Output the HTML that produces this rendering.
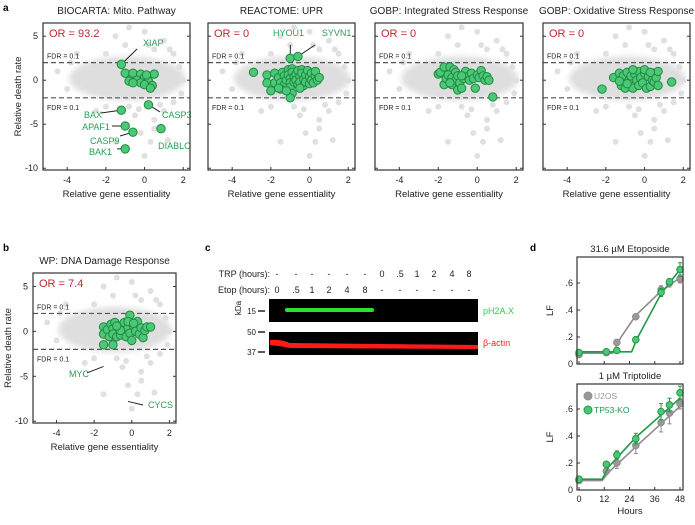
<!DOCTYPE html>
<html><head><meta charset="utf-8"><style>
body{margin:0;background:#fff;width:695px;height:520px;overflow:hidden;font-family:"Liberation Sans",sans-serif}
svg text{font-family:"Liberation Sans",sans-serif}
</style></head><body>
<svg id="fig" width="695" height="520" viewBox="0 0 695 520" xmlns="http://www.w3.org/2000/svg">
<defs><filter id="blur" x="-20%" y="-20%" width="140%" height="140%"><feGaussianBlur stdDeviation="3"/></filter></defs>
<text x="3" y="11" font-size="10" font-weight="bold">a</text>
<text x="3" y="251" font-size="10" font-weight="bold">b</text>
<text x="205" y="251" font-size="10" font-weight="bold">c</text>
<text x="530" y="251" font-size="10" font-weight="bold">d</text>
<g id="scatters"></g>
<g id="blot"></g>
<g id="lf"></g>
</svg>
<script>
// ---------- scatter data ----------
const bgPoints = [[-1.5,5],[0,5.5],[1.5,3],[-3.5,3],[-4.5,1],[2,0],[-0.5,-4],[0.5,-4.5],[1,-3.5],[-0.2,-6],[0.3,-7],[0,-8.6],[-1.5,-7],[1.2,-6.8],[-0.8,-3],[0.5,-5.5],[-2.5,-3.5],[1.5,-2.5],[-1,4],[0.5,3.5],[-2,3],[1,4.5],[-4,-1],[-3.8,2],[1.8,1.5],[1.9,-1.5],[-2,-3],[0.8,-2.8],[-0.3,-3.3],[1.3,3.5],[-0.8,6],[0.2,4]];
const greenBio = [[-1.2,1.8],[-1,0.8],[-0.6,0.8],[-0.2,0.7],[0,0.3],[0.5,0.7],[-0.8,-0.1],[-0.4,0],[-0.2,-0.3],[0.2,-0.1],[-0.6,-0.3],[0,-0.5],[0.4,-0.6],[0.3,-0.9],[0.1,0.6],[-1.2,-3.4],[0.2,-2.8],[-1,-5.2],[-0.6,-5.9],[0.85,-5.5],[-1,-7.8]];
// [label, pointX, pointY, textX, textY, leaderEndX, leaderEndY]
const labelsBio = [["XIAP",-1.2,1.8,-0.08,3.9,-0.39,3.55],["BAX",-1.2,-3.4,-3.13,-4.29,-2.25,-3.72],["CASP3",0.2,-2.8,0.9,-4.29,0.8,-3.6],["APAF1",-1,-5.2,-3.23,-5.66,-1.68,-5.2],["CASP9",-0.6,-5.9,-2.82,-7.25,-1.27,-6.34],["DIABLO",0.85,-5.5,0.7,-7.8,null,null],["BAK1",-1,-7.8,-2.87,-8.5,-1.42,-7.8]];
const labelsUpr = [["HYOU1",-1,2.5,-1.89,5.0,-0.99,4.0],["SYVN1",-0.6,2.7,0.64,5.0,0.28,4.0]];
const greenUpr = [[-1,2.5],[-0.6,2.7],[-2.9,0.9],[-2.2,0.6],[-2.2,-0.3],[-1.8,0.8],[-1.8,-0.3],[-1.6,0.3],[-1.5,-0.3],[-1.4,0.9],[-1.3,0.5],[-1.3,-0.5],[-1.2,0],[-1.1,1.2],[-1.1,0.6],[-1,0.2],[-1,-0.3],[-1,-0.8],[-0.9,1.3],[-0.9,0.9],[-0.8,0.4],[-0.8,-0.2],[-0.7,0.7],[-0.7,0],[-0.6,1.1],[-0.6,-0.5],[-0.5,0.4],[-0.5,-0.2],[-0.4,1.2],[-0.4,0.8],[-0.3,0.1],[-0.3,-0.6],[-0.2,0.6],[-0.2,-0.2],[-0.1,1.1],[0,0.4],[0,-0.4],[0.1,0.8],[0.1,0],[0.2,-0.3],[0.3,0.5],[0.3,1],[0.4,0],[0.5,0.3],[-1.5,-1],[-0.9,-1.5],[-1,-2],[-1.2,-1.2],[-2,-1.2],[-0.5,-0.9],[-1.6,-0.9]];
const greenIsr = [[-2,0.7],[-1.9,0.9],[-1.7,1.5],[-1.4,1.5],[-1.2,1.2],[-1.7,-0.5],[-1.6,0.2],[-1.5,0.6],[-1.3,0.3],[-1.3,-0.5],[-1.1,0.9],[-1.1,0],[-1,0.5],[-1,-1.1],[-0.9,-0.3],[-0.8,-0.9],[-0.7,0.2],[-0.6,1],[-0.5,0.4],[-0.4,0],[-0.3,0.8],[-0.2,0.2],[-0.1,-0.9],[0,0.6],[0.1,0.3],[0.2,1.1],[0.3,0.5],[0.4,0],[0.5,0.4],[0.6,0],[-1.4,-0.3],[0.8,-1.9],[-0.8,0.5]];
const greenOx = [[-2.2,-1],[-1.6,0.3],[-1.3,0.8],[-1.2,-0.6],[-1.1,0.5],[-1,-0.9],[-0.9,0.9],[-0.8,0],[-0.7,0.5],[-0.6,-0.9],[-0.5,0.7],[-0.4,0],[-0.3,1],[-0.3,-0.6],[-0.2,0.3],[-0.1,-0.3],[0,0.8],[0,1.2],[0.1,-0.9],[0.2,0.4],[0.3,-0.7],[0.4,0],[0.5,0.8],[0.5,-0.2],[0.6,0.3],[0.7,1],[0.7,-0.6],[1.4,-0.2],[-1.3,-0.1],[-0.6,1.2],[-0.9,-0.4],[0.3,0.9]];
const greenDna = [[-0.1,1.8],[-1.5,0.5],[-1.5,-0.3],[-1.3,0.2],[-1.2,-0.6],[-1.1,0.8],[-1,0.3],[-1,-0.3],[-0.9,1],[-0.8,-0.6],[-0.7,0.4],[-0.6,-0.4],[-0.5,0.7],[-0.4,0],[-0.4,1],[-0.3,-0.6],[-0.2,0.4],[-0.2,1.1],[-0.1,-0.2],[0,-1],[0.1,0.6],[0.2,0],[0.3,1.1],[0.4,-0.3],[0.5,0.4],[0.6,-0.7],[0.7,0.1],[0.8,0.5],[1,0.5],[-1.5,-1.5],[-1,-1.5],[-0.6,0.1],[0.1,0.9],[-0.8,0.6]];
const labelsDna = [["MYC",-1.5,-3.9,-3.34,-5.08,-2.38,-4.63],["CYCS",-0.2,-7.8,0.86,-8.53,0.6,-8.2]];
const xTicks = [-4,-2,0,2];
const yTicks = [5,0,-5,-10];

const panels = [
 {name:"biocarta-mito",title:"BIOCARTA: Mito. Pathway",or:"OR = 93.2",x:43,y:23,w:147,h:147,g:greenBio,lab:labelsBio,ylab:true},
 {name:"reactome-upr",title:"REACTOME: UPR",or:"OR = 0",x:208,y:23,w:147,h:147,g:greenUpr,lab:labelsUpr,ylab:false},
 {name:"gobp-isr",title:"GOBP: Integrated Stress Response",or:"OR = 0",x:375,y:23,w:148,h:147,g:greenIsr,lab:[],ylab:false},
 {name:"gobp-oxidative",title:"GOBP: Oxidative Stress Response",or:"OR = 0",x:543,y:23,w:147,h:147,g:greenOx,lab:[],ylab:false},
 {name:"wp-dna-damage",title:"WP: DNA Damage Response",or:"OR = 7.4",x:33,y:273,w:143,h:150,g:greenDna,lab:labelsDna,ylab:true}
];
const NS="http://www.w3.org/2000/svg";
function mk(tag,attrs,parent){const e=document.createElementNS(NS,tag);for(const k in attrs)e.setAttribute(k,attrs[k]);parent.appendChild(e);return e;}
const sc=document.getElementById('scatters');
panels.forEach(p=>{
 const g=mk('g',{},sc);
 
 
 const X=v=>p.x+(v+5.25)/7.6*p.w, Y=v=>p.y+(6.5-v)/16.7*p.h;
 const t=mk('text',{x:p.x+p.w/2,y:p.y-9,'font-size':10,'text-anchor':'middle',fill:'#222'},g);t.textContent=p.title;
 
 
 const cl=mk('ellipse',{cx:X(-0.9),cy:Y(0.2),rx:3.0/7.6*p.w,ry:2.5/16.7*p.h,fill:'#dedede',filter:'url(#blur)'},g);
 
 
 bgPoints.forEach(d=>{const c=mk('circle',{cx:X(d[0]),cy:Y(d[1]),r:3,fill:'#e0e0e0'},g);
  
  });
 [2,-2].forEach(v=>{const l=mk('line',{x1:p.x,x2:p.x+p.w,y1:Y(v),y2:Y(v),stroke:'#555','stroke-width':1.2,'stroke-dasharray':'5,3'},g);
  
  
  const ft=mk('text',{x:p.x+4,y:v>0?Y(v)-4:Y(v)+12,'font-size':7,fill:'#222'},g);ft.textContent='FDR = 0.1';
  
  });
 p.lab.forEach(L=>{ if(L[5]===null) return;
  const l=mk('line',{x1:X(L[1]),y1:Y(L[2]),x2:X(L[5]),y2:Y(L[6]),stroke:'#222','stroke-width':1},g);
  
  });
 p.g.forEach(d=>{const c=mk('circle',{cx:X(d[0]),cy:Y(d[1]),r:4.2,fill:'#4cc776',stroke:'#1f8a43','stroke-width':1},g);
  
  });
 p.lab.forEach(L=>{const t2=mk('text',{x:X(L[3]),y:Y(L[4]),'font-size':9,fill:'#2a9d55'},g);t2.textContent=L[0];
  
  });
 const b=mk('rect',{x:p.x,y:p.y,width:p.w,height:p.h,fill:'none',stroke:'#333','stroke-width':1.2},g);
 
 
 const o=mk('text',{x:p.x+6,y:p.y+14,'font-size':11,fill:'#c0282d'},g);o.textContent=p.or;
 
 
 xTicks.forEach(v=>{mk('line',{x1:X(v),x2:X(v),y1:p.y+p.h,y2:p.y+p.h-3,stroke:'#333'},g);
  const tt=mk('text',{x:X(v),y:p.y+p.h+13,'font-size':9,'text-anchor':'middle',fill:'#222'},g);tt.textContent=v;
  
  });
 yTicks.forEach(v=>{mk('line',{x1:p.x,x2:p.x+3,y1:Y(v),y2:Y(v),stroke:'#333'},g);mk('line',{x1:p.x+p.w,x2:p.x+p.w-3,y1:Y(v),y2:Y(v),stroke:'#333'},g);
  if(p.ylab){const tt=mk('text',{x:p.x-5,y:Y(v)+3,'font-size':9,'text-anchor':'end',fill:'#222'},g);tt.textContent=v;
  
  }});
 const xt=mk('text',{x:p.x+p.w/2,y:p.y+p.h+27,'font-size':9.5,'text-anchor':'middle',fill:'#222'},g);xt.textContent='Relative gene essentiality';
 
 
 if(p.ylab){const yt=mk('text',{x:0,y:0,'font-size':9.5,'text-anchor':'middle',fill:'#222',transform:`translate(${p.x-22},${p.y+p.h/2}) rotate(-90)`},g);yt.textContent='Relative death rate';
  
  }
});

// ---------- western blot ----------
const trpLabels=["-","-","-","-","-","-","0",".5","1","2","4","8"];
const etopLabels=["0",".5","1","2","4","8","-","-","-","-","-","-"];
const laneX=[277,296,312,329,347,365,382,400,417,434,452,469];
const bl=document.getElementById('blot');
function txt(x,y,s,size,fill,anchor,name){const t=mk('text',{x:x,y:y,'font-size':size,fill:fill,'text-anchor':anchor},bl);t.textContent=s;return t;}
txt(270,277,'TRP (hours):',9,'#222','end','trp-row-label');
txt(270,293,'Etop (hours):',9,'#222','end','etop-row-label');
laneX.forEach((x,i)=>{txt(x,277,trpLabels[i],9,'#222','middle','trp-lane-label');txt(x,293,etopLabels[i],9,'#222','middle','etop-lane-label');});
const gb=mk('rect',{x:269,y:299,width:209,height:23,fill:'#000'},bl);


const rb=mk('rect',{x:269,y:332,width:209,height:23,fill:'#000'},bl);


const band=mk('rect',{x:285,y:308,width:89,height:4,rx:2,fill:'#2ee02e'},bl);


const rband=mk('path',{d:'M270 340 Q280 339 290 343 L478 345 L478 349 L290 348 Q280 346 270 345 Z',fill:'#ff1a1a'},bl);


txt(483,314,'pH2A.X',9,'#2ed03e','start','ph2ax-label');
txt(483,346,'β-actin',9,'#ff2020','start','actin-label');
txt(256,314,'15',8,'#222','end','kda-15');txt(256,335,'50',8,'#222','end','kda-50');txt(256,355,'37',8,'#222','end','kda-37');
[311,332,352].forEach(y=>mk('line',{x1:258,x2:265,y1:y,y2:y,stroke:'#222','stroke-width':1.5},bl));
const kd=mk('text',{x:0,y:0,'font-size':8,fill:'#222','text-anchor':'middle',transform:'translate(241,308) rotate(-90)'},bl);kd.textContent='kDa';



// ---------- LF curves ----------
const hours=[0,13,18,27,39,43,48];
const etopU2os=[0.07,0.085,0.16,0.35,0.55,0.60,0.63];
const etopKo=[0.085,0.09,0.10,0.18,0.53,0.61,0.70];
const etopU2osErr=[0.01,0.01,0.01,0.01,0.03,0.03,0.03];
const etopKoErr=[0.01,0.01,0.01,0.01,0.03,0.02,0.05];
const tripU2os=[0.07,0.14,0.20,0.33,0.50,0.57,0.64];
const tripKo=[0.08,0.19,0.26,0.38,0.58,0.63,0.72];
const tripU2osErr=[0.01,0.02,0.04,0.06,0.07,0.08,0.04];
const tripKoErr=[0.01,0.01,0.03,0.04,0.06,0.05,0.05];
const fitEtopU2os=[[0,0.08],[16,0.08],[20,0.2],[27,0.36],[39,0.54],[48,0.64]];
const fitEtopKo=[[0,0.09],[25,0.09],[28,0.2],[39,0.52],[48,0.70]];
const fitTripU2os=[[0,0.07],[11,0.07],[14,0.13],[27,0.32],[48,0.62]];
const fitTripKo=[[0,0.08],[11,0.08],[14,0.17],[27,0.39],[48,0.68]];
const lfTicks=[0,0.2,0.4,0.6];
const lfTickLabels=["0",".2",".4",".6"];
const hourTicks=[0,12,24,36,48];
const lf=document.getElementById('lf');
const GRAY='#8c8c8c',GREEN='#1f9a48';
function lfPanel(name,title,top,bottom,series,showX,legend){
 const g=mk('g',{},lf);
 
 
 const L=577,R=683;
 const X=h=>579+h/48*101, Y=v=>bottom-v*135;
 const t=mk('text',{x:(L+R)/2,y:top-5,'font-size':9.5,'text-anchor':'middle',fill:'#222'},g);t.textContent=title;
 
 
 series.forEach(s=>{
  const fl=mk('polyline',{points:s.fit.map(d=>X(d[0])+','+Y(d[1])).join(' '),fill:'none',stroke:s.col,'stroke-width':1.6},g);
  
  
  s.v.forEach((v,i)=>{
   const e=s.e[i];
   mk('line',{x1:X(hours[i]),x2:X(hours[i]),y1:Y(v-e),y2:Y(v+e),stroke:s.col,'stroke-width':1},g);
   mk('line',{x1:X(hours[i])-2,x2:X(hours[i])+2,y1:Y(v-e),y2:Y(v-e),stroke:s.col},g);
   mk('line',{x1:X(hours[i])-2,x2:X(hours[i])+2,y1:Y(v+e),y2:Y(v+e),stroke:s.col},g);
   const c=mk('circle',{cx:X(hours[i]),cy:Y(v),r:3.3,fill:s.fill,stroke:s.col,'stroke-width':1},g);
   
   
  });
 });
 const fr=mk('rect',{x:L,y:top,width:R-L,height:bottom-top,fill:'none',stroke:'#333','stroke-width':1.2},g);
 
 
 lfTicks.forEach((v,i)=>{mk('line',{x1:L,x2:L+3,y1:Y(v),y2:Y(v),stroke:'#333'},g);
  const tt=mk('text',{x:L-4,y:Y(v)+3,'font-size':9,'text-anchor':'end',fill:'#222'},g);tt.textContent=lfTickLabels[i];
  
  });
 hourTicks.forEach(h=>{mk('line',{x1:X(h),x2:X(h),y1:bottom,y2:bottom-3,stroke:'#333'},g);
  if(showX){const tt=mk('text',{x:X(h),y:bottom+12,'font-size':9,'text-anchor':'middle',fill:'#222'},g);tt.textContent=h;
  
  }});
 const yt=mk('text',{x:0,y:0,'font-size':9.5,'text-anchor':'middle',fill:'#222',transform:`translate(553,${(top+bottom)/2}) rotate(-90)`},g);yt.textContent='LF';
 
 
 if(showX){const xt=mk('text',{x:(L+R)/2,y:bottom+24,'font-size':9.5,'text-anchor':'middle',fill:'#222'},g);xt.textContent='Hours';
  
  }
 if(legend){
  [['U2OS','#999',GRAY,'#999',396],['TP53-KO','#4cc776',GREEN,GREEN,410]].forEach(l=>{
   const c=mk('circle',{cx:588,cy:l[4],r:4,fill:l[1],stroke:l[2]},g);
   
   
   const tx=mk('text',{x:594,y:l[4]+3,'font-size':8.5,fill:l[3]},g);tx.textContent=l[0];
   
   
  });
 }
}
lfPanel('etoposide-lf-chart','31.6 µM Etoposide',257,364,[{v:etopU2os,e:etopU2osErr,fit:fitEtopU2os,col:GRAY,fill:'#9a9a9a'},{v:etopKo,e:etopKoErr,fit:fitEtopKo,col:GREEN,fill:'#4cc776'}],false,false);
lfPanel('triptolide-lf-chart','1 µM Triptolide',384,490,[{v:tripU2os,e:tripU2osErr,fit:fitTripU2os,col:GRAY,fill:'#9a9a9a'},{v:tripKo,e:tripKoErr,fit:fitTripKo,col:GREEN,fill:'#4cc776'}],true,true);
</script>
</body></html>
